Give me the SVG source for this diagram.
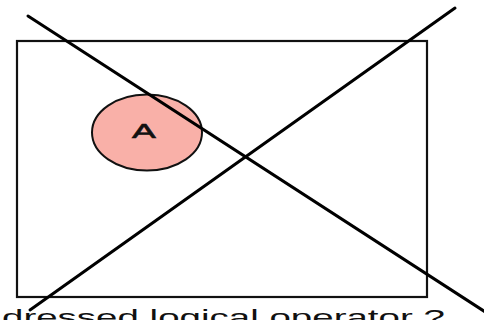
<svg xmlns="http://www.w3.org/2000/svg" width="484" height="320" viewBox="0 0 484 320">
<style>
.lbl{font-family:"Liberation Sans",Arial,sans-serif;fill:#111}
.ln{stroke:#000;stroke-width:3;stroke-linecap:round;fill:none}
</style>
<rect width="484" height="320" fill="#fff"/>
<g id="frame"><rect x="17" y="41" width="410" height="256" fill="none" stroke="#111" stroke-width="2.2"/></g>
<g id="A">
<ellipse cx="147" cy="132.5" rx="55" ry="38" fill="#f9b0a8" stroke="#111" stroke-width="2"/>
<text class="lbl" font-size="21" text-anchor="middle" stroke="#111" stroke-width="0.6" transform="translate(144,137.5) scale(1.7,1)">A</text>
</g>
<g id="connectors">
<line class="ln" x1="28" y1="16" x2="490" y2="315"/>
<line class="ln" x1="30" y1="310" x2="455" y2="8"/>
</g>
<text class="lbl" font-size="22" transform="translate(2,325) scale(1.75,1)">dressed logical operator ?</text>
</svg>
